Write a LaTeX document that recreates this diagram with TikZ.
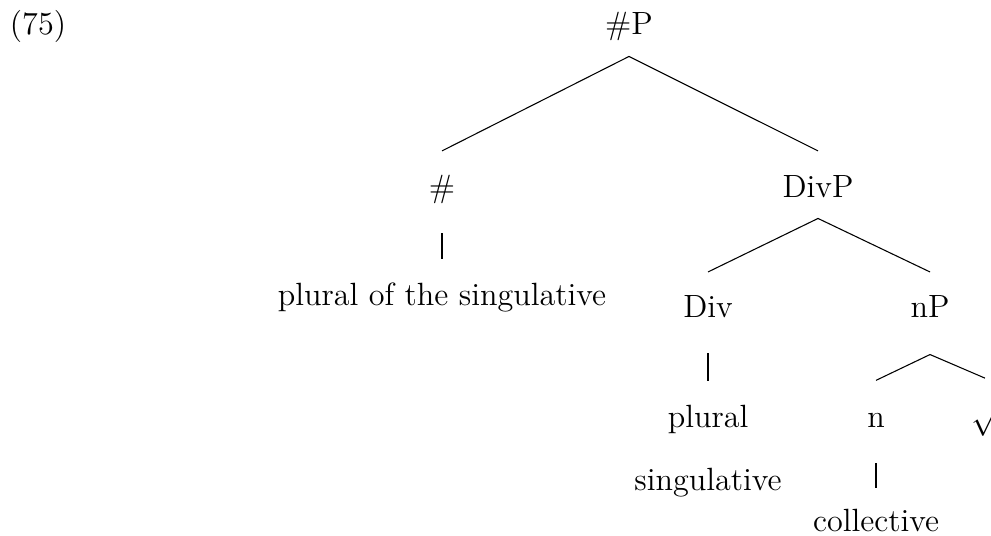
\documentclass[tikz,border=0pt,12pt]{standalone}
\usepackage{amsmath}
\usepackage{amssymb}

\begin{document}
\begin{tikzpicture}[x=0.373pt,y=-0.373pt,
	every node/.style={anchor=base,inner sep=0pt,text height=8.4pt,text depth=2.4pt}]
	\useasboundingbox (0,0) rectangle (991,535);
	% example number
	\node (exnum) at (38,35) {(75)};
	% labels
	\node (hashP) at (629,35) {\#P};
	\node (hash) at (442,197) {\#};
	\node (divP) at (818,197) {DivP};
	\node (hashlex) at (442,305) {plural of the singulative};
	\node (div) at (708,317) {Div};
	\node (nP) at (930,317) {nP};
	\node (plural) at (708,427) {plural};
	\node (sing) at (708,490) {singulative};
	\node (n) at (876,427) {n};
	\node (root) at (985,428) {$\surd$};
	\node (coll) at (876,531) {collective};

	% branches
	\draw ([yshift=-5.4pt]hashP.south) -- ([yshift=8.6pt]hash.north);
	\draw ([yshift=-5.4pt]hashP.south) -- ([yshift=8.6pt]divP.north);
	\draw ([yshift=-5.4pt]divP.south) -- ([yshift=8.2pt]div.north);
	\draw ([yshift=-5.4pt]divP.south) -- ([yshift=8.2pt]nP.north);
	\draw ([yshift=-11.4pt]nP.south) -- ([yshift=8.8pt]n.north);
	\draw ([yshift=-11.4pt]nP.south) -- ([yshift=10pt]root.north);
	% unary lines
	\draw ([yshift=-11pt]hash.south) -- ([yshift=8.4pt]hashlex.north);
	\draw ([yshift=-11pt]div.south) -- ([yshift=8.4pt]plural.north);
	\draw ([yshift=-11pt]n.south) -- ([yshift=7.3pt]coll.north);
\end{tikzpicture}
\end{document}
